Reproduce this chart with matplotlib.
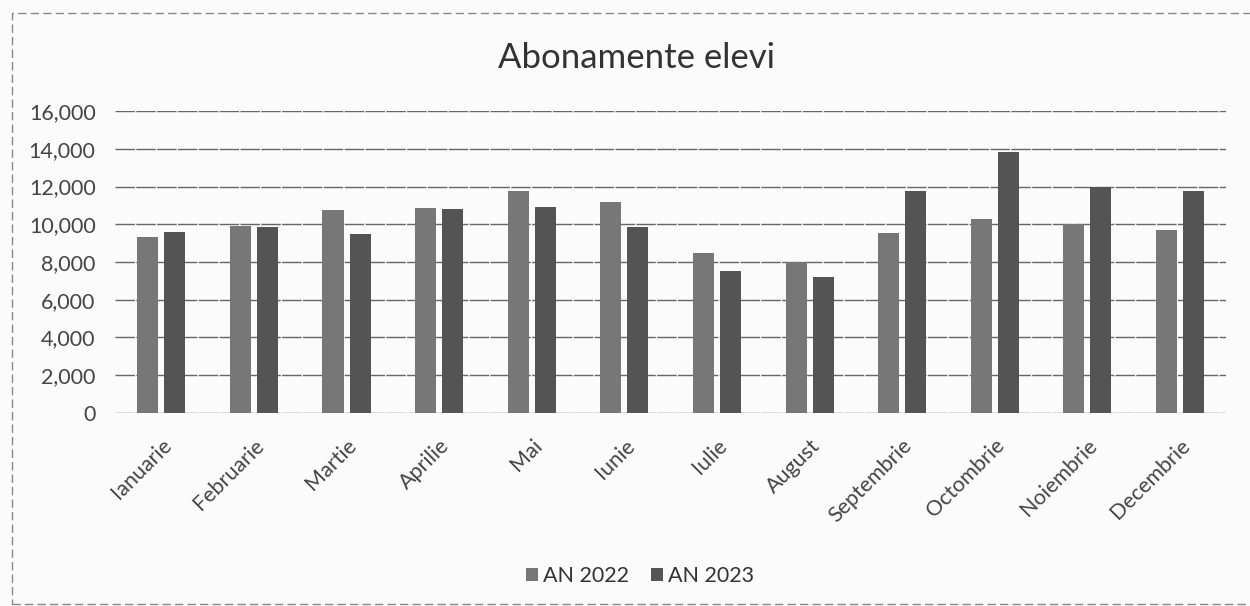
import numpy as np
import matplotlib.pyplot as plt
from matplotlib.patches import Rectangle

luni = ['Ianuarie', 'Februarie', 'Martie', 'Aprilie', 'Mai', 'Iunie',
        'Iulie', 'August', 'Septembrie', 'Octombrie', 'Noiembrie', 'Decembrie']
an_2022 = [9350, 9900, 10760, 10880, 11780, 11160, 8490, 8000, 9530, 10260, 10040, 9710]
an_2023 = [9610, 9880, 9490, 10810, 10900, 9840, 7520, 7200, 11740, 13830, 11980, 11740]
y_ticks = [0, 2000, 4000, 6000, 8000, 10000, 12000, 14000, 16000]

plt.rcParams['font.family'] = ['Lato', 'DejaVu Sans']

fig = plt.figure(figsize=(12.5, 6.06), dpi=100, facecolor='#fbfbfb')
ax = fig.add_axes([0.092, 0.3185, 0.889, 0.4983])
ax.set_facecolor('#fbfbfb')

x = np.arange(len(luni))
w = 0.227
ax.bar(x - 0.146, an_2022, w, color='#777777', label='AN 2022', zorder=3)
ax.bar(x + 0.146, an_2023, w, color='#545454', label='AN 2023', zorder=3)

ax.set_xlim(-0.5, len(luni) - 0.5)
ax.set_ylim(0, 16000)
ax.set_yticks(y_ticks)
ax.set_yticklabels(['{:,}'.format(v) for v in y_ticks])
ax.set_xticks(x)
ax.set_xticklabels(luni, rotation=45, ha='right', rotation_mode='anchor')
ax.tick_params(axis='both', length=0, labelsize=15.5, colors='#444444')
ax.tick_params(axis='y', pad=14)
ax.tick_params(axis='x', pad=16)
ax.grid(axis='y', color='#666666', linewidth=1.0, linestyle=(0, (14, 1)), zorder=0)
for s in ax.spines.values():
    s.set_visible(False)

fig.text(0.509, 0.905, 'Abonamente elevi', ha='center', va='center',
         fontsize=25, color='#333333')

fig.legend(loc='center', bbox_to_anchor=(0.512, 0.05), ncol=2, frameon=False,
           fontsize=15.5, handlelength=0.55, handleheight=0.55, handletextpad=0.25,
           columnspacing=1.0, labelcolor='#333333')

# chenarul graficului
fig.patches.append(Rectangle((0.0096, 0.003), 1.0, 0.976, transform=fig.transFigure,
                             fill=False, edgecolor='#888888', linewidth=1,
                             linestyle=(0, (6, 3))))

fig.savefig('out.png', dpi=100, facecolor=fig.get_facecolor())
